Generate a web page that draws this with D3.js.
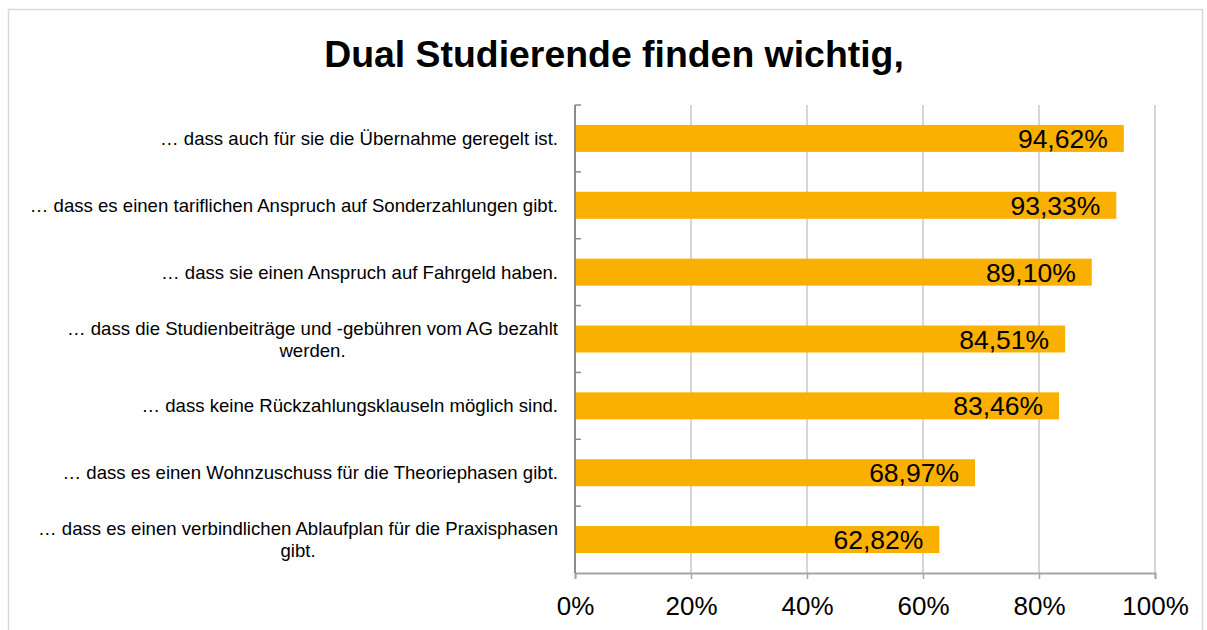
<!DOCTYPE html>
<html><head><meta charset="utf-8">
<script src="https://cdn.jsdelivr.net/npm/d3@7/dist/d3.min.js"></script>
<style>body{margin:0;background:#fff}svg{display:block;font-family:"Liberation Sans",Arial,sans-serif}</style>
</head><body><svg id="c" width="1207" height="630"></svg>
<script>
const title = "Dual Studierende finden wichtig,";
const categories = [
  ["… dass auch für sie die Übernahme geregelt ist."],
  ["… dass es einen tariflichen Anspruch auf Sonderzahlungen gibt."],
  ["… dass sie einen Anspruch auf Fahrgeld haben."],
  ["… dass die Studienbeiträge und -gebühren vom AG bezahlt", "werden."],
  ["… dass keine Rückzahlungsklauseln möglich sind."],
  ["… dass es einen Wohnzuschuss für die Theoriephasen gibt."],
  ["… dass es einen verbindlichen Ablaufplan für die Praxisphasen", "gibt."]
];
const values = [94.62, 93.33, 89.10, 84.51, 83.46, 68.97, 62.82];
const xTicks = [0, 20, 40, 60, 80, 100];

const svg = d3.select("#c");
const L = 575, R = 1155, T = 105, B = 573;
svg.append("rect").attr("x",8.5).attr("y",9.5).attr("width",1194).attr("height",700)
  .attr("fill","none").attr("stroke","#d9d9d9").attr("stroke-width",1.5);

svg.append("text").attr("x",614).attr("y",67).attr("text-anchor","middle")
  .attr("font-size",37.4).attr("font-weight","bold").attr("fill","#000").text(title);

const x = d3.scaleLinear().domain([0,100]).range([L,R]);
const yb = d3.scaleBand().domain(d3.range(categories.length)).range([T,B]);

// gridlines
svg.append("g").selectAll("line").data(xTicks.slice(1)).join("line")
  .attr("x1",d=>x(d)).attr("x2",d=>x(d)).attr("y1",T).attr("y2",B)
  .attr("stroke","#c8c8c8").attr("stroke-width",1.5);

// bars
svg.append("g").selectAll("rect").data(values).join("rect")
  .attr("x",L).attr("y",(d,i)=>yb(i)+yb.bandwidth()/2-13.5).attr("height",27)
  .attr("width",d=>x(d)-L).attr("fill","#F9B000");

// value labels
svg.append("g").selectAll("text").data(values).join("text")
  .attr("x",d=>x(d)-16).attr("y",(d,i)=>yb(i)+yb.bandwidth()/2+9.5)
  .attr("text-anchor","end").attr("font-size",26.5).attr("fill","#000")
  .text(d=>d.toFixed(2).replace(".",",")+"%");

// bottom axis
const xAxis = d3.axisBottom(x).tickValues(xTicks).tickFormat(d=>d+"%").tickSize(6).tickPadding(18);
const gx = svg.append("g").attr("transform",`translate(0,${B})`).call(xAxis);
gx.select(".domain").attr("stroke","#a6a6a6").attr("stroke-width",2);
gx.selectAll(".tick line").attr("stroke","#a6a6a6").attr("stroke-width",1.5);
gx.selectAll(".tick text").attr("font-size",26).attr("fill","#000").attr("font-family","Liberation Sans, Arial, sans-serif").attr("dy","0.71em");

// left axis
svg.append("line").attr("x1",L).attr("x2",L).attr("y1",T).attr("y2",B).attr("stroke","#8c8c8c").attr("stroke-width",2);
const bounds = d3.range(categories.length).map(i=>yb(i));
svg.append("g").selectAll("line").data(bounds).join("line")
  .attr("x1",L).attr("x2",L+6).attr("y1",d=>d).attr("y2",d=>d)
  .attr("stroke","#8c8c8c").attr("stroke-width",1.5);

// category labels
const lab = svg.append("g");
categories.forEach((lines,i)=>{
  const cy = yb(i)+yb.bandwidth()/2;
  const lh = 22;
  const t = lab.append("text").attr("font-size",18.6).attr("fill","#000").attr("text-anchor","middle");
  lines.forEach((s,j)=>{
    t.append("tspan").attr("y",cy + (j-(lines.length-1)/2)*lh + 6.5).text(s);
  });
  const w = d3.max(t.selectAll("tspan").nodes(),n=>n.getComputedTextLength());
  t.selectAll("tspan").attr("x",558 - w/2);
});
</script></body></html>
